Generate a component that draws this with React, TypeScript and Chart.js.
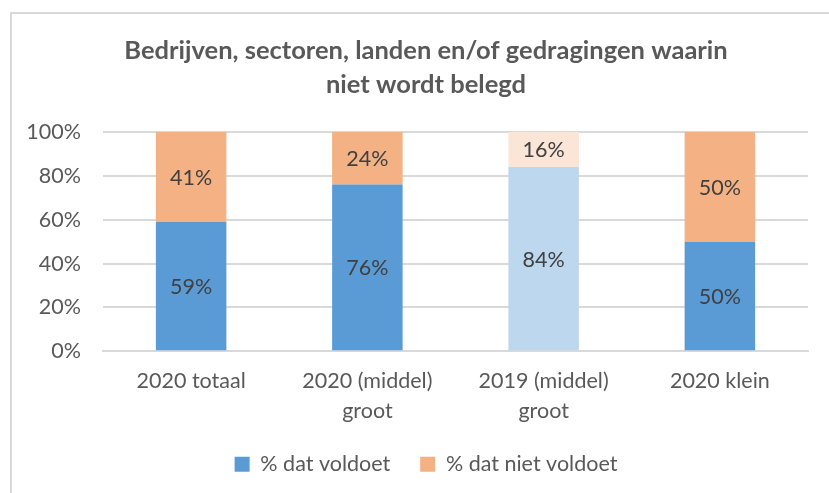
import React, { useEffect, useRef } from "react";
import { Chart, registerables } from "chart.js";

Chart.register(...registerables);

const categories: (string | string[])[] = [
  "2020 totaal",
  ["2020 (middel)", "groot"],
  ["2019 (middel)", "groot"],
  "2020 klein",
];
const voldoet = [59, 76, 84, 50];
const nietVoldoet = [41, 24, 16, 50];
const yTicks = [0, 20, 40, 60, 80, 100];
const titleLines = ["Bedrijven, sectoren, landen en/of gedragingen waarin", "niet wordt belegd"];
const seriesNames = ["% dat voldoet", "% dat niet voldoet"];

const FONT = "Lato, 'Open Sans', sans-serif";
const TEXT = "#595959";
const FS = 21.5;

const labelPlugin = {
  id: "segLabels",
  afterDatasetsDraw(chart: any) {
    const ctx = chart.ctx;
    ctx.save();
    ctx.font = `${FS}px ${FONT}`;
    ctx.fillStyle = "#404040";
    ctx.textAlign = "center";
    ctx.textBaseline = "middle";
    chart.data.datasets.forEach((ds: any, di: number) => {
      const meta = chart.getDatasetMeta(di);
      meta.data.forEach((bar: any, i: number) => {
        const v = ds.data[i];
        const y = (bar.y + bar.base) / 2;
        ctx.fillText(v + "%", bar.x, y + 1);
      });
    });
    ctx.restore();
  },
};

export default function App() {
  const ref = useRef<HTMLCanvasElement>(null);
  useEffect(() => {
    if (!ref.current) return;
    const chart = new Chart(ref.current, {
      type: "bar",
      data: {
        labels: categories as any,
        datasets: [
          {
            label: seriesNames[0],
            data: voldoet,
            backgroundColor: ["#5B9BD5", "#5B9BD5", "#BDD7EE", "#5B9BD5"],
            stack: "s",
            categoryPercentage: 1,
            barPercentage: 0.4,
          },
          {
            label: seriesNames[1],
            data: nietVoldoet,
            backgroundColor: ["#F4B183", "#F4B183", "#FBE5D6", "#F4B183"],
            stack: "s",
            categoryPercentage: 1,
            barPercentage: 0.4,
          },
        ],
      },
      options: {
        animation: false,
        responsive: false,
        maintainAspectRatio: false,
        layout: { padding: { left: 23, right: 0, top: 20, bottom: 8 } },
        plugins: {
          title: {
            display: true,
            text: titleLines,
            color: TEXT,
            font: { family: FONT, size: 25.5, weight: "bold", lineHeight: 1.333 },
            padding: { top: 14, bottom: 30 },
          },
          legend: {
            position: "bottom",
            labels: {
              color: TEXT,
              font: { family: FONT, size: FS },
              boxWidth: 15,
              boxHeight: 15,
              padding: 30,
              generateLabels: () =>
                seriesNames.map((n, i) => ({
                  text: n,
                  fillStyle: i === 0 ? "#5B9BD5" : "#F4B183",
                  strokeStyle: "transparent",
                  lineWidth: 0,
                  datasetIndex: i,
                  fontColor: TEXT,
                })),
            },
          },
          tooltip: { enabled: false },
        },
        scales: {
          x: {
            stacked: true,
            grid: { display: false, drawTicks: false },
            border: { display: true, color: "#d9d9d9", width: 2 },
            ticks: {
              color: TEXT,
              font: { family: FONT, size: FS, lineHeight: 1.4 },
              padding: 15,
              maxRotation: 0,
              autoSkip: false,
            },
            afterFit: (s: any) => {
              s.height = s.height - 18;
            },
          },
          y: {
            stacked: true,
            min: 0,
            max: 100,
            afterBuildTicks: (s: any) => {
              s.ticks = yTicks.map((v) => ({ value: v }));
            },
            afterFit: (s: any) => {
              s.width = 80;
            },
            grid: { color: "#d9d9d9", lineWidth: 2, drawTicks: false },
            border: { display: false },
            ticks: {
              color: TEXT,
              font: { family: FONT, size: FS },
              padding: 22,
              callback: (v: any) => v + "%",
            },
          },
          y2: {
            position: "right",
            display: true,
            grid: { display: false, drawTicks: false },
            border: { display: false },
            ticks: { display: false },
            afterFit: (s: any) => {
              s.width = 21;
            },
          },
        },
      },
      plugins: [labelPlugin],
    } as any);
    return () => chart.destroy();
  }, []);
  return (
    <div
      style={{
        position: "fixed",
        left: 0,
        top: 0,
        width: 829,
        height: 493,
        overflow: "hidden",
        background: "#fff",
      }}
    >
      <div
        style={{
          position: "absolute",
          left: 10,
          top: 12,
          width: 840,
          height: 500,
          border: "2px solid #d9d9d9",
          boxSizing: "border-box",
        }}
      />
      <canvas
        ref={ref}
        width={829}
        height={493}
        style={{ position: "absolute", left: 0, top: 0, width: 829, height: 493 }}
      />
    </div>
  );
}
